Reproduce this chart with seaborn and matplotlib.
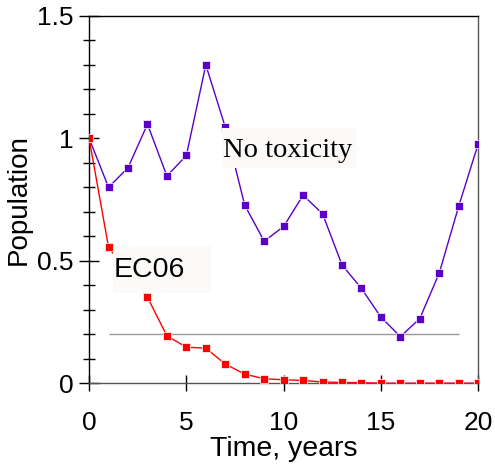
import numpy as np
import pandas as pd
import matplotlib
matplotlib.use("Agg")
import matplotlib.pyplot as plt
import seaborn as sns
from matplotlib.ticker import MultipleLocator
from matplotlib.patches import Rectangle

years = list(range(21))
no_toxicity = [1.0, 0.80, 0.88, 1.058, 0.846, 0.93, 1.30, 1.046, 0.727, 0.58, 0.64,
               0.768, 0.692, 0.483, 0.387, 0.27, 0.19, 0.264, 0.45, 0.723, 0.977]
ec06 = [1.0, 0.555, 0.45, 0.351, 0.193, 0.147, 0.143, 0.078, 0.037, 0.018, 0.014,
        0.011, 0.005, 0.003, 0.002, 0.0, 0.0, 0.0, 0.0, 0.0, 0.0]
threshold = 0.2
threshold_span = [1, 19]
series_names = ["No toxicity", "EC06"]

df = pd.DataFrame({
    "year": years * 2,
    "pop": no_toxicity + ec06,
    "series": [series_names[0]] * len(years) + [series_names[1]] * len(years),
})

sns.set_style("white")
plt.rcParams['font.family'] = ['Liberation Sans', 'DejaVu Sans']
plt.rcParams.update({"text.color": "black", "axes.labelcolor": "black",
                     "xtick.color": "black", "ytick.color": "black"})

fig = plt.figure(figsize=(4.95, 4.69), dpi=100)
ax = fig.add_axes([0.18, 0.183, 0.786, 0.783])

ax.hlines(threshold, threshold_span[0], threshold_span[1], color="#999999", lw=1.0, zorder=1)

sns.lineplot(data=df, x="year", y="pop", hue="series",
             palette={"No toxicity": "#5a00c8", "EC06": "#ff0000"},
             marker="s", markersize=6, markeredgewidth=0.5,
             lw=1.0, ax=ax, legend=False, zorder=3)
for line in ax.get_lines():
    if line.get_color() == "#ff0000":
        line.set_zorder(4)

ax.set_xlim(0, 20)
ax.set_ylim(0, 1.5)
ax.set_xticks([0, 5, 10, 15, 20])
ax.set_yticks([0, 0.5, 1, 1.5])
ax.set_yticklabels(["0", "0.5", "1", "1.5"])
ax.yaxis.set_minor_locator(MultipleLocator(0.1))
ax.tick_params(axis="y", which="major", direction="inout", length=14, width=1, labelsize=19, left=True, pad=4)
ax.tick_params(axis="y", which="minor", direction="inout", length=8, width=1, left=True)
ax.tick_params(axis="x", which="major", direction="inout", length=12, width=1, labelsize=19, bottom=True, pad=14)
ax.set_xlabel("Time, years", fontsize=20.5, labelpad=1)
ax.set_ylabel("Population", fontsize=20, labelpad=4)

for s in ["left", "top"]:
    ax.spines[s].set_color("black")
    ax.spines[s].set_linewidth(1.0)
for s in ["right", "bottom"]:
    ax.spines[s].set_color("#555555")
    ax.spines[s].set_linewidth(1.0)
for s in ax.spines.values():
    s.set_visible(True)

ax.add_patch(Rectangle((6.84, 0.879), 6.94, 0.163, fc="#fbfaf8", ec="none", zorder=5))
ax.text(6.9, 0.924, "No toxicity", family=["Liberation Serif", "DejaVu Serif"], fontsize=20.5,
        va="baseline", ha="left", zorder=6)
ax.add_patch(Rectangle((1.23, 0.368), 5.04, 0.192, fc="#fbfaf8", ec="none", zorder=5))
ax.text(1.28, 0.434, "EC06", fontsize=20.5, va="baseline", ha="left", zorder=6)

fig.savefig("out.png", dpi=100)
